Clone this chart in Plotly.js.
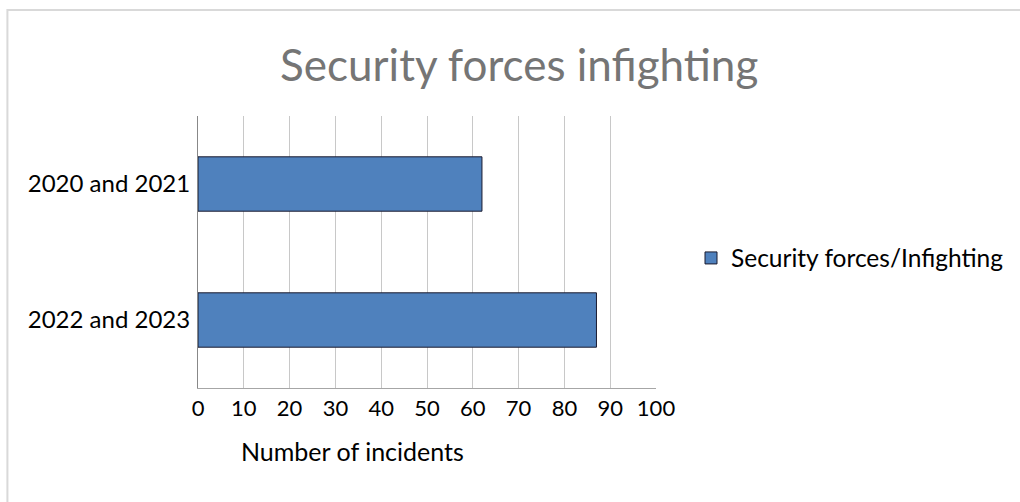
<!DOCTYPE html>
<html>
<head>
<meta charset="utf-8">
<script src="https://cdn.plot.ly/plotly-3.0.1.min.js"></script>
<style>
  html, body { margin: 0; padding: 0; background: #ffffff; overflow: hidden; }
  #chart { width: 1020px; height: 502px; }
</style>
</head>
<body>
<div id="chart"></div>
<script>
// Incident counts per period (horizontal bars, top to bottom)
const periods = ["2020 and 2021", "2022 and 2023"];
const incidents = [62, 87];
const seriesName = "Security forces/Infighting";
const xTickValues = [0, 10, 20, 30, 40, 50, 60, 70, 80, 90, 100];

const FONT = "Lato, 'Open Sans', sans-serif";

const trace = {
  type: "bar",
  orientation: "h",
  y: periods,
  x: incidents,
  name: seriesName,
  width: 0.4,
  marker: { color: "#4f81bd", line: { color: "#1a1a2e", width: 1 } },
  showlegend: true,
  hoverinfo: "x+y"
};

const layout = {
  width: 1020,
  height: 502,
  margin: { l: 198, r: 363, t: 116, b: 114, pad: 0 },
  paper_bgcolor: "#ffffff",
  plot_bgcolor: "#ffffff",
  font: { family: FONT, size: 22, color: "#000000" },
  title: {
    text: "Security forces infighting",
    font: { family: FONT, size: 44, color: "#757575" },
    x: 0.509, xref: "container", xanchor: "center",
    y: 0.87, yref: "container", yanchor: "middle"
  },
  xaxis: {
    range: [0, 100],
    tickvals: xTickValues,
    ticktext: xTickValues.map(String),
    showgrid: true,
    gridcolor: "#c8c8c8",
    gridwidth: 1,
    zeroline: false,
    showline: true,
    linecolor: "#a6a6a6",
    linewidth: 1,
    ticks: "",
    ticklabelstandoff: 1,
    tickfont: { family: FONT, size: 22, color: "#000000" },
    fixedrange: true
  },
  yaxis: {
    type: "category",
    categoryorder: "array",
    categoryarray: periods,
    autorange: "reversed",
    showgrid: false,
    zeroline: false,
    showline: true,
    linecolor: "#888888",
    linewidth: 1,
    ticks: "",
    ticklabelstandoff: 2,
    tickfont: { family: FONT, size: 24, color: "#000000" },
    fixedrange: true
  },
  legend: {
    x: (691 - 198) / 459, xanchor: "left",
    y: (388 - 258) / 272, yanchor: "middle",
    font: { family: FONT, size: 24.5, color: "#000000" },
    bgcolor: "rgba(0,0,0,0)",
    borderwidth: 0
  },
  annotations: [{
    text: "Number of incidents",
    xref: "paper", yref: "paper",
    x: (353 - 198) / 459, y: (388 - 451) / 272,
    xanchor: "center", yanchor: "middle",
    showarrow: false,
    font: { family: FONT, size: 25, color: "#000000" }
  }],
  shapes: [{
    type: "rect", xref: "paper", yref: "paper",
    x0: (7 - 198) / 459, x1: (1030 - 198) / 459,
    y0: (388 - 520) / 272, y1: (388 - 10) / 272,
    line: { color: "#d9d9d9", width: 2 },
    fillcolor: "rgba(0,0,0,0)",
    layer: "below"
  }]
};

Plotly.newPlot("chart", [trace], layout, { displayModeBar: false, staticPlot: true });
</script>
</body>
</html>
